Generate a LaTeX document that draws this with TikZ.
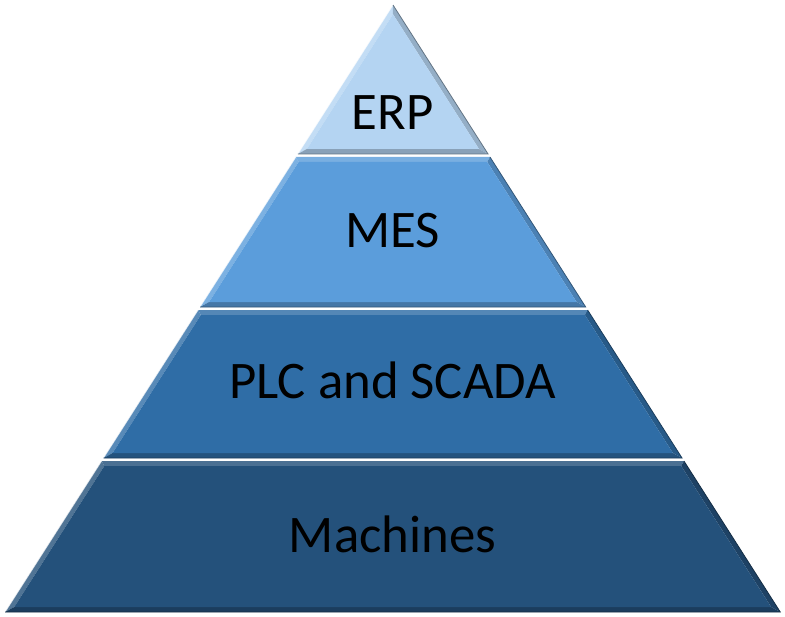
\documentclass[tikz,border=0pt]{standalone}
\usepackage{fontspec}
\setmainfont{Carlito}
\definecolor{erpc}{HTML}{B4D4F2}
\definecolor{mesc}{HTML}{5B9DDB}
\definecolor{plcc}{HTML}{2F6DA6}
\definecolor{macc}{HTML}{24517B}
\tikzset{
  lbl/.style={anchor=base, inner sep=0pt, font=\fontsize{53}{63}\selectfont, text=black},
}
% \pyrlayer{ytop}{ybot}{color}{name}{text}{baseline}
\newcommand{\pyrlayer}[6]{%
  \pgfmathsetmacro{\ya}{#1}%
  \pgfmathsetmacro{\yb}{#2}%
  \pgfmathsetmacro{\xla}{393-0.639*(\ya-5)}%
  \pgfmathsetmacro{\xra}{393+0.638*(\ya-5)}%
  \pgfmathsetmacro{\xlb}{393-0.639*(\yb-5)}%
  \pgfmathsetmacro{\xrb}{393+0.638*(\yb-5)}%
  \pgfmathsetmacro{\yia}{max(\ya+5,14.2)}%
  \pgfmathsetmacro{\yib}{\yb-5}%
  \pgfmathsetmacro{\xlia}{393-0.639*(\yia-5)+5.9}%
  \pgfmathsetmacro{\xria}{393+0.638*(\yia-5)-5.9}%
  \pgfmathsetmacro{\xlib}{393-0.639*(\yib-5)+5.9}%
  \pgfmathsetmacro{\xrib}{393+0.638*(\yib-5)-5.9}%
  \coordinate (#4A) at (\xla,\ya);
  \coordinate (#4B) at (\xra,\ya);
  \coordinate (#4C) at (\xrb,\yb);
  \coordinate (#4D) at (\xlb,\yb);
  \coordinate (#4a) at (\xlia,\yia);
  \coordinate (#4b) at (\xria,\yia);
  \coordinate (#4c) at (\xrib,\yib);
  \coordinate (#4d) at (\xlib,\yib);
  \fill[#3!82!white] (#4A) -- (#4B) -- (#4b) -- (#4a) -- cycle;
  \fill[#3!80!white] (#4A) -- (#4a) -- (#4d) -- (#4D) -- cycle;
  \fill[#3!82!black] (#4B) -- (#4C) -- (#4c) -- (#4b) -- cycle;
  \fill[#3!76!black] (#4D) -- (#4C) -- (#4c) -- (#4d) -- cycle;
  \fill[#3] (#4a) -- (#4b) -- (#4c) -- (#4d) -- cycle;
  \draw[white, opacity=0.7, line width=0.8bp] (#4D) -- (#4A);
  \draw[#3!55!black, line width=0.8bp] (#4B) -- (#4C) -- (#4D);
  \node[lbl] (#4) at (392.5,#6) {#5};
}
\begin{document}
\begin{tikzpicture}[x=1bp, y=-1bp]
  \useasboundingbox (0,0) rectangle (785,617);
  \fill[white] (0,0) rectangle (785,617);
  \pyrlayer{5}{154}{erpc}{erp}{ERP}{130}
  \pyrlayer{157}{307}{mesc}{mes}{MES}{247}
  \pyrlayer{310}{458}{plcc}{plc}{PLC and SCADA}{398}
  \pyrlayer{461}{612}{macc}{mac}{Machines}{552}
\end{tikzpicture}
\end{document}
